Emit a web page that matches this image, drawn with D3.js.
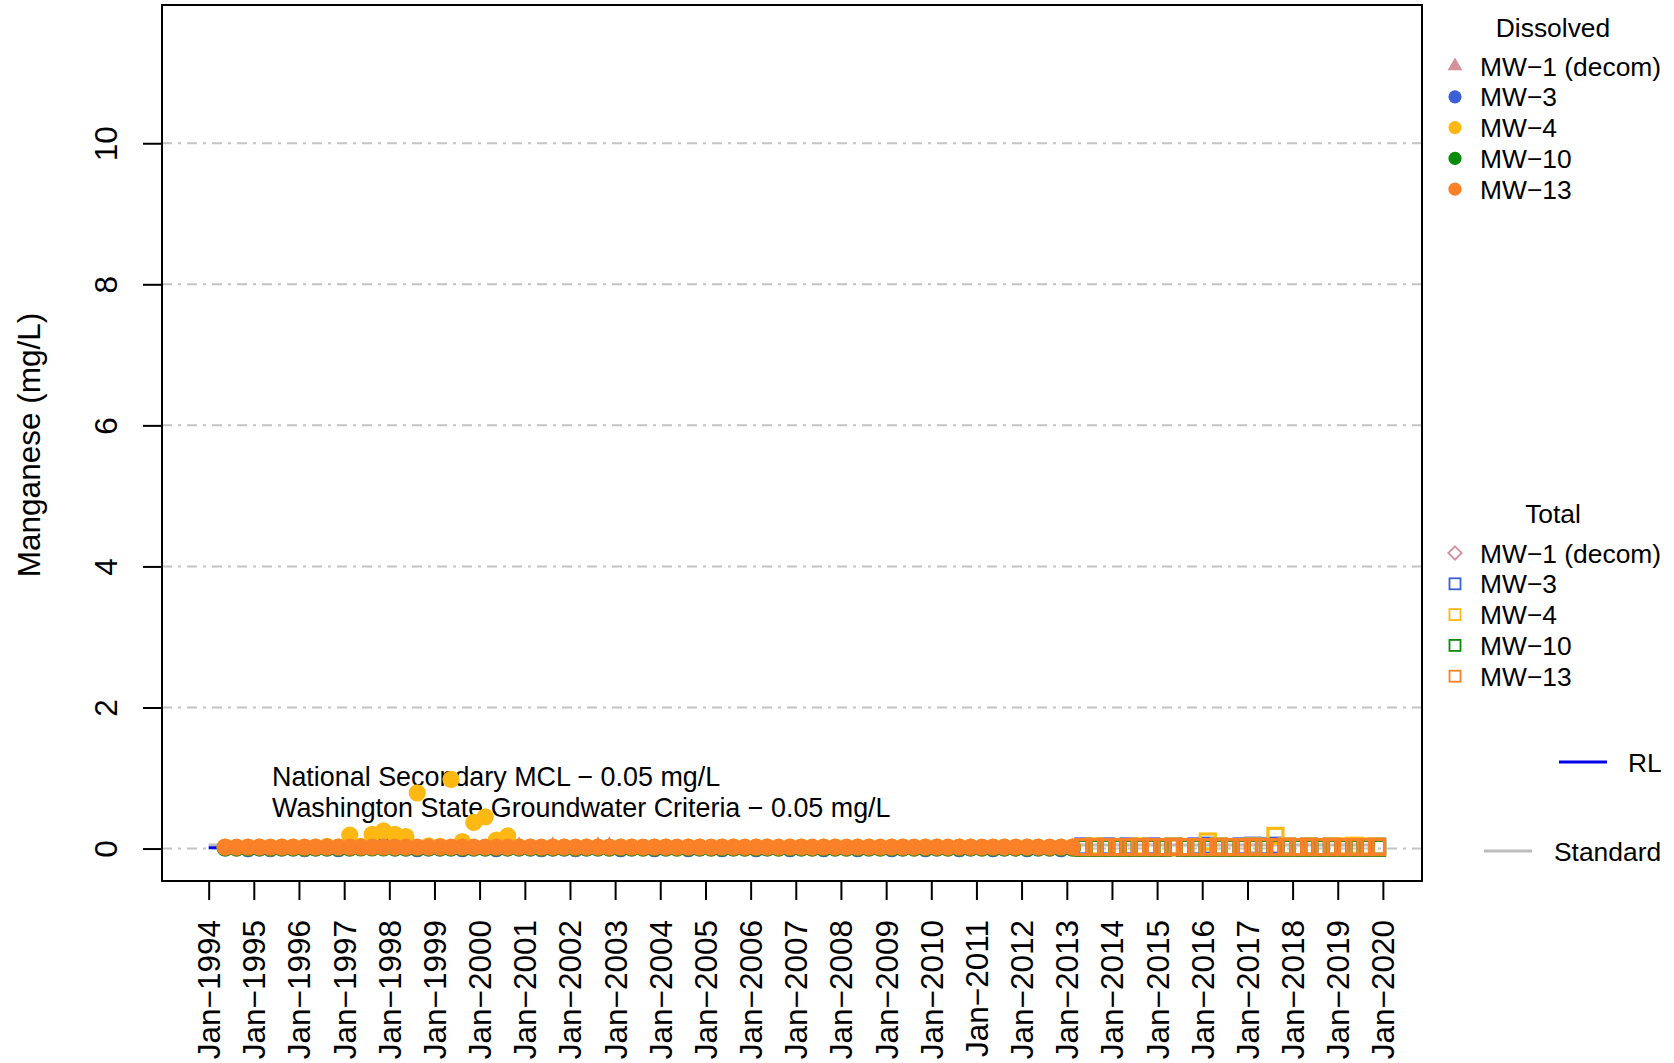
<!DOCTYPE html>
<html>
<head>
<meta charset="utf-8">
<script src="https://cdn.jsdelivr.net/npm/d3@7"></script>
<style>
  html, body { margin: 0; padding: 0; background: #ffffff; }
  svg { display: block; font-family: "Liberation Sans", Arial, Helvetica, sans-serif; }
</style>
</head>
<body>
<svg id="chart" width="1674" height="1063"></svg>
<script>
// ---- Sampling events -------------------------------------------------------
// Dissolved manganese, quarterly events (Feb / May / Aug / Nov)
const dissolvedDates = [
  "1994-05-15","1994-08-15","1994-11-15",
  "1995-02-15","1995-05-15","1995-08-15","1995-11-15",
  "1996-02-15","1996-05-15","1996-08-15","1996-11-15",
  "1997-02-15","1997-05-15","1997-08-15","1997-11-15",
  "1998-02-15","1998-05-15","1998-08-15","1998-11-15",
  "1999-02-15","1999-05-15","1999-08-15","1999-11-15",
  "2000-02-15","2000-05-15","2000-08-15","2000-11-15",
  "2001-02-15","2001-05-15","2001-08-15","2001-11-15",
  "2002-02-15","2002-05-15","2002-08-15","2002-11-15",
  "2003-02-15","2003-05-15","2003-08-15","2003-11-15",
  "2004-02-15","2004-05-15","2004-08-15","2004-11-15",
  "2005-02-15","2005-05-15","2005-08-15","2005-11-15",
  "2006-02-15","2006-05-15","2006-08-15","2006-11-15",
  "2007-02-15","2007-05-15","2007-08-15","2007-11-15",
  "2008-02-15","2008-05-15","2008-08-15","2008-11-15",
  "2009-02-15","2009-05-15","2009-08-15","2009-11-15",
  "2010-02-15","2010-05-15","2010-08-15","2010-11-15",
  "2011-02-15","2011-05-15","2011-08-15","2011-11-15",
  "2012-02-15","2012-05-15","2012-08-15","2012-11-15",
  "2013-02-15"
];

// Total manganese, quarterly events
const totalDates = [
  "2013-05-15","2013-08-15","2013-11-15",
  "2014-02-15","2014-05-15","2014-08-15","2014-11-15",
  "2015-02-15","2015-05-15","2015-08-15","2015-11-15",
  "2016-02-15","2016-05-15","2016-08-15","2016-11-15",
  "2017-02-15","2017-05-15","2017-08-15","2017-11-15",
  "2018-02-15","2018-05-15","2018-08-15","2018-11-15",
  "2019-02-15","2019-05-15","2019-08-15","2019-11-15"
];

// ---- Results (mg/L); null = not sampled ------------------------------------
const dissolvedMW1 = [
  0.00,0.00,0.01, 0.00,0.00,0.01,0.00, 0.00,0.01,0.00,0.00,
  0.00,0.01,0.00,0.00, 0.01,0.00,0.00,0.01, 0.00,0.00,0.01,0.00,
  0.00,0.01,0.00,0.05, 0.00,0.01,0.05,0.00, 0.00,0.01,0.05,0.05,
  0.01,0.00,0.00,0.01,
  null,null,null,null, null,null,null,null, null,null,null,null,
  null,null,null,null, null,null,null,null, null,null,null,null,
  null,null,null,null, null,null,null,null, null,null,null,null,
  null
];
const dissolvedMW3 = [
  0.01,0.01,0.00, 0.01,0.00,0.01,0.01, 0.00,0.01,0.01,0.00,
  0.01,0.02,0.05,0.05, 0.01,0.01,0.00,0.01, 0.01,0.01,0.00,0.01,
  0.01,0.00,0.01,0.01, 0.01,0.00,0.01,0.01, 0.00,0.01,0.01,0.01,
  0.00,0.01,0.01,0.00, 0.01,0.01,0.00,0.01, 0.01,0.00,0.01,0.01,
  0.00,0.01,0.01,0.00, 0.01,0.01,0.00,0.01, 0.01,0.00,0.01,0.01,
  0.00,0.01,0.01,0.00, 0.01,0.01,0.00,0.01, 0.01,0.00,0.01,0.01,
  0.00,0.01,0.01,0.00, 0.01
];
const dissolvedMW4 = [
  0.02,0.01,0.02, 0.02,0.01,0.02,0.02, 0.01,0.02,0.03,0.02,
  0.19,0.03,0.20,0.25, 0.20,0.17,0.79,0.04, 0.03,0.98,0.10,0.37,
  0.45,0.12,0.18,0.02, 0.02,0.01,0.02,0.02, 0.01,0.02,0.02,0.01,
  0.02,0.02,0.01,0.02, 0.02,0.01,0.02,0.02, 0.01,0.02,0.02,0.01,
  0.02,0.02,0.01,0.02, 0.02,0.01,0.02,0.02, 0.01,0.02,0.02,0.01,
  0.02,0.02,0.01,0.02, 0.02,0.01,0.02,0.02, 0.01,0.02,0.02,0.01,
  0.02,0.02,0.01,0.02, 0.02
];
const dissolvedMW10 = [
  0.01,0.01,0.01, 0.01,0.01,0.01,0.01, 0.01,0.01,0.01,0.01,
  0.01,0.01,0.01,0.01, 0.01,0.01,0.01,0.01, 0.01,0.01,0.01,0.01,
  0.01,0.01,0.01,0.01, 0.01,0.01,0.01,0.01, 0.01,0.01,0.01,0.01,
  0.01,0.01,0.01,0.01, 0.01,0.01,0.01,0.01, 0.01,0.01,0.01,0.01,
  0.01,0.01,0.01,0.01, 0.01,0.01,0.01,0.01, 0.01,0.01,0.01,0.01,
  0.01,0.01,0.01,0.01, 0.01,0.01,0.01,0.01, 0.01,0.01,0.01,0.01,
  0.01,0.01,0.01,0.01, 0.01
];
const dissolvedMW13 = [
  0.02,0.02,0.02, 0.02,0.02,0.02,0.02, 0.02,0.02,0.02,0.02,
  0.02,0.02,0.02,0.02, 0.02,0.02,0.02,0.02, 0.02,0.02,0.02,0.02,
  0.02,0.02,0.02,0.02, 0.02,0.02,0.02,0.02, 0.02,0.02,0.02,0.02,
  0.02,0.02,0.02,0.02, 0.02,0.02,0.02,0.02, 0.02,0.02,0.02,0.02,
  0.02,0.02,0.02,0.02, 0.02,0.02,0.02,0.02, 0.02,0.02,0.02,0.02,
  0.02,0.02,0.02,0.02, 0.02,0.02,0.02,0.02, 0.02,0.02,0.02,0.02,
  0.02,0.02,0.02,0.02, 0.02
];

// MW-1 was decommissioned before total-metals sampling began
const totalMW1 = [];
const totalMW3 = [
  0.03,0.02,0.03, 0.02,0.03,0.02,0.03, 0.02,0.03,0.02,0.03,
  0.04,0.03,0.02,0.03, 0.04,0.03,0.04,0.03, 0.02,0.03,0.02,0.03,
  0.02,0.03,0.02,0.03
];
const totalMW4 = [
  0.02,0.03,0.02, 0.02,0.02,0.03,0.02, 0.02,0.03,0.02,0.02,
  0.10,0.03,0.02,0.02, 0.03,0.02,0.18,0.03, 0.02,0.03,0.02,0.03,
  0.03,0.04,0.03,0.03
];
const totalMW10 = [
  0.01,0.01,0.01, 0.01,0.01,0.01,0.01, 0.01,0.02,0.01,0.01,
  0.01,0.01,0.01,0.01, 0.01,0.01,0.01,0.01, 0.01,0.01,0.01,0.01,
  0.01,0.01,0.01,0.01
];
const totalMW13 = [
  0.02,0.02,0.02, 0.02,0.02,0.02,0.02, 0.02,0.02,0.02,0.02,
  0.02,0.02,0.02,0.02, 0.02,0.02,0.02,0.02, 0.02,0.02,0.02,0.02,
  0.02,0.02,0.02,0.02
];

// Reference lines
const rlValue = 0.01;                 // reporting limit
const standardValue = 0.05;           // MCL / groundwater criterion
const dateLimits = ["1994-01-01", "2019-11-01"];
const yLimits = [0, 11.5];
const yTicks = [0, 2, 4, 6, 8, 10];
const tickYears = [1994,1995,1996,1997,1998,1999,2000,2001,2002,2003,2004,2005,2006,
                   2007,2008,2009,2010,2011,2012,2013,2014,2015,2016,2017,2018,2019,2020];

const wellNames = ["MW\u22121 (decom)", "MW\u22123", "MW\u22124", "MW\u221210", "MW\u221213"];
const wellColors = ["#d4919b", "#3b5fd6", "#fdb813", "#0a8c0a", "#fa8128"];
const annotationLines = [
  "National Secondary MCL \u2212 0.05 mg/L",
  "Washington State Groundwater Criteria \u2212 0.05 mg/L"
];

// ---- Layout ---------------------------------------------------------------
const plot = { left: 162, right: 1422, top: 5, bottom: 881 };
const parse = d3.timeParse("%Y-%m-%d");
const svg = d3.select("#chart");

const d0 = parse(dateLimits[0]), d1 = parse(dateLimits[1]);
const span = d1 - d0;
const x = d3.scaleTime()
  .domain([new Date(+d0 - 0.04 * span), new Date(+d1 + 0.04 * span)])
  .range([plot.left, plot.right]);
const yPad = 0.04 * (yLimits[1] - yLimits[0]);
const y = d3.scaleLinear()
  .domain([yLimits[0] - yPad, yLimits[1] + yPad])
  .range([plot.bottom, plot.top]);

const axisFont = 31.5;
const textFont = 26.4;

// Dash-dot horizontal grid
svg.append("g").selectAll("line").data(yTicks).join("line")
  .attr("x1", plot.left).attr("x2", plot.right)
  .attr("y1", d => y(d)).attr("y2", d => y(d))
  .attr("stroke", "#c4c4c4").attr("stroke-width", 2)
  .attr("stroke-dasharray", "10,6,3,6");

// Standard and reporting-limit lines across the sampling period
svg.append("line")
  .attr("x1", x(d0)).attr("x2", x(d1))
  .attr("y1", y(standardValue)).attr("y2", y(standardValue))
  .attr("stroke", "#bdbdbd").attr("stroke-width", 3);
svg.append("line")
  .attr("x1", x(d0)).attr("x2", x(parse("2013-02-15")))
  .attr("y1", y(rlValue)).attr("y2", y(rlValue))
  .attr("stroke", "#0000ee").attr("stroke-width", 3);

// Criteria annotation
svg.append("g").selectAll("text").data(annotationLines).join("text")
  .attr("x", 272).attr("y", (d, i) => 786 + i * 31)
  .attr("font-size", 26.9).attr("fill", "#000")
  .text(d => d);

// ---- Points ---------------------------------------------------------------
const dissolvedSeries = [dissolvedMW1, dissolvedMW3, dissolvedMW4, dissolvedMW10, dissolvedMW13];
const totalSeries = [totalMW1, totalMW3, totalMW4, totalMW10, totalMW13];
const triangle = d3.symbol().type(d3.symbolTriangle).size(100);
const sq = 15;
const pts = svg.append("g");

wellNames.forEach((name, w) => {
  const dis = dissolvedSeries[w]
    .map((v, i) => ({ date: parse(dissolvedDates[i]), value: v }))
    .filter(d => d.value !== null);
  const tot = totalSeries[w]
    .map((v, i) => ({ date: parse(totalDates[i]), value: v }))
    .filter(d => d.value !== null);

  if (w === 0) {
    pts.append("g").selectAll("path").data(dis).join("path")
      .attr("d", triangle)
      .attr("transform", d => `translate(${x(d.date)},${y(d.value)})`)
      .attr("fill", wellColors[w]);
    pts.append("g").selectAll("path").data(tot).join("path")
      .attr("d", d3.symbol().type(d3.symbolDiamond2).size(120))
      .attr("transform", d => `translate(${x(d.date)},${y(d.value)})`)
      .attr("fill", "none").attr("stroke", wellColors[w]).attr("stroke-width", 2);
  } else {
    pts.append("g").selectAll("circle").data(dis).join("circle")
      .attr("cx", d => x(d.date)).attr("cy", d => y(d.value))
      .attr("r", 8.6).attr("fill", wellColors[w]);
    pts.append("g").selectAll("rect").data(tot).join("rect")
      .attr("x", d => x(d.date) - sq / 2).attr("y", d => y(d.value) - sq / 2)
      .attr("width", sq).attr("height", sq)
      .attr("fill", "none").attr("stroke", wellColors[w]).attr("stroke-width", 3.2);
  }
});

// ---- Frame and axes -------------------------------------------------------
svg.append("rect")
  .attr("x", plot.left).attr("y", plot.top)
  .attr("width", plot.right - plot.left).attr("height", plot.bottom - plot.top)
  .attr("fill", "none").attr("stroke", "#000").attr("stroke-width", 2);

const yAxis = svg.append("g")
  .attr("transform", `translate(${plot.left},0)`)
  .call(d3.axisLeft(y).tickValues(yTicks).tickSize(19).tickFormat(d3.format("d")));
yAxis.select(".domain").remove();
yAxis.selectAll(".tick line").attr("stroke", "#000").attr("stroke-width", 2);
yAxis.selectAll(".tick text")
  .attr("font-size", axisFont).attr("font-family", "Liberation Sans, Arial, sans-serif")
  .attr("fill", "#000")
  .attr("x", 0).attr("dy", null).attr("y", 0)
  .attr("text-anchor", "middle")
  .attr("transform", "translate(-45,0) rotate(-90)");

const tickDates = tickYears.map(yr => new Date(yr, 0, 1));
const monthFmt = d3.timeFormat("%b");
const xAxis = svg.append("g")
  .attr("transform", `translate(0,${plot.bottom})`)
  .call(d3.axisBottom(x).tickValues(tickDates).tickSize(19)
    .tickFormat(d => monthFmt(d) + "\u2212" + d.getFullYear()));
xAxis.select(".domain").remove();
xAxis.selectAll(".tick line").attr("stroke", "#000").attr("stroke-width", 2);
xAxis.selectAll(".tick text")
  .attr("font-size", axisFont).attr("font-family", "Liberation Sans, Arial, sans-serif")
  .attr("fill", "#000")
  .attr("x", 0).attr("y", 0).attr("dy", null)
  .attr("text-anchor", "end")
  .attr("transform", "translate(11,39) rotate(-90)");

svg.append("text")
  .attr("transform", `translate(40,${(plot.top + plot.bottom) / 2 + 2}) rotate(-90)`)
  .attr("text-anchor", "middle")
  .attr("font-size", axisFont)
  .text("Manganese (mg/L)");

// ---- Legends --------------------------------------------------------------
function legendBlock(title, titleY, rowY0, kind) {
  const g = svg.append("g");
  g.append("text").attr("x", 1553).attr("y", titleY).attr("text-anchor", "middle")
    .attr("font-size", textFont).text(title);
  const rows = g.selectAll("g").data(wellNames).join("g")
    .attr("transform", (d, i) => `translate(0,${rowY0 + i * 30.8})`);
  rows.append("text").attr("x", 1480).attr("y", 9.5)
    .attr("font-size", textFont).text(d => d);
  rows.each(function (d, i) {
    const r = d3.select(this);
    if (kind === "dissolved") {
      if (i === 0) {
        r.append("path").attr("d", d3.symbol().type(d3.symbolTriangle).size(95))
          .attr("transform", "translate(1455,0)").attr("fill", wellColors[i]);
      } else {
        r.append("circle").attr("cx", 1455).attr("cy", 0).attr("r", 6.6).attr("fill", wellColors[i]);
      }
    } else {
      if (i === 0) {
        r.append("path").attr("d", d3.symbol().type(d3.symbolDiamond2).size(115))
          .attr("transform", "translate(1455,0)")
          .attr("fill", "none").attr("stroke", wellColors[i]).attr("stroke-width", 1.8);
      } else {
        r.append("rect").attr("x", 1449.5).attr("y", -5.5).attr("width", 11).attr("height", 11)
          .attr("fill", "none").attr("stroke", wellColors[i]).attr("stroke-width", 1.8);
      }
    }
  });
}
legendBlock("Dissolved", 36.5, 66, "dissolved");
legendBlock("Total", 522.5, 553, "total");

svg.append("line").attr("x1", 1559).attr("x2", 1607).attr("y1", 762).attr("y2", 762)
  .attr("stroke", "#0000ee").attr("stroke-width", 3);
svg.append("text").attr("x", 1628).attr("y", 771.5).attr("font-size", textFont).text("RL");
svg.append("line").attr("x1", 1484).attr("x2", 1532).attr("y1", 851).attr("y2", 851)
  .attr("stroke", "#bdbdbd").attr("stroke-width", 3);
svg.append("text").attr("x", 1554).attr("y", 860.5).attr("font-size", textFont).text("Standard");
</script>
</body>
</html>
